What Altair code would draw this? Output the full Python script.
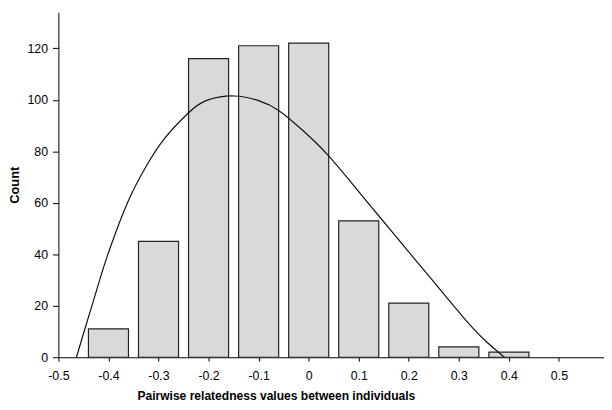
import altair as alt
import pandas as pd

# Histogram bins (centers) and counts
bin_centers = [-0.4, -0.3, -0.2, -0.1, 0.0, 0.1, 0.2, 0.3, 0.4]
counts = [11, 45, 116, 121, 122, 53, 21, 4, 2]

# Fitted curve, points
curve_x = [-0.464, -0.449, -0.429, -0.409, -0.386, -0.356, -0.324, -0.287,
           -0.241, -0.205, -0.150, -0.100, -0.060, -0.011, 0.039, 0.095,
           0.144, 0.194, 0.240, 0.306, 0.352, 0.391]
curve_y = [0.0, 9.8, 22.6, 35.4, 48.2, 62.6, 74.4, 85.2,
           94.8, 99.7, 101.5, 99.7, 95.9, 88.0, 78.4, 65.5,
           54.0, 42.3, 31.6, 16.2, 6.6, 0.0]

x_ticks = [-0.5, -0.4, -0.3, -0.2, -0.1, 0.0, 0.1, 0.2, 0.3, 0.4, 0.5]
y_ticks = [0, 20, 40, 60, 80, 100, 120]

bars_df = pd.DataFrame({"center": bin_centers, "count": counts})
curve_df = pd.DataFrame({"x": curve_x, "y": curve_y})

half_w = 0.04
x_scale = alt.Scale(domain=[-0.5, 0.59], nice=False, zero=False)
y_scale = alt.Scale(domain=[0, 134], nice=False)

x_axis = alt.Axis(
    values=x_ticks,
    labelExpr="datum.value == 0 ? '0' : toString(round(datum.value * 10) / 10)",
    labelFlush=False, labelPadding=9, tickSize=4,
    title="Pairwise relatedness values between individuals",
    titleX=220, titleAnchor="middle", titleAlign="center",
    titleFontSize=12.2, titlePadding=7,
)
y_axis = alt.Axis(values=y_ticks, title="Count", tickSize=6, labelPadding=5,
                  titlePadding=6, labelFlush=False)

bars = alt.Chart(bars_df).transform_calculate(
    lo=f"datum.center - {half_w}", hi=f"datum.center + {half_w}"
).mark_rect(fill="#d9d9d9", stroke="#222222", strokeWidth=1.2).encode(
    x=alt.X("lo:Q", scale=x_scale, axis=x_axis),
    x2="hi:Q",
    y=alt.Y("count:Q", scale=y_scale, axis=y_axis),
    y2=alt.datum(0),
)

curve = alt.Chart(curve_df).mark_line(
    color="#111111", strokeWidth=1.2, interpolate="natural", clip=True
).encode(
    x=alt.X("x:Q", scale=x_scale),
    y=alt.Y("y:Q", scale=y_scale),
)

chart = alt.layer(bars, curve).properties(
    width=552, height=349,
    autosize=alt.AutoSizeParams(type="none"),
    padding={"left": 51, "top": 2, "right": 0, "bottom": 51},
).configure_view(stroke=None).configure_axis(
    grid=False,
    domainColor="#000000", domainWidth=1,
    tickColor="#000000", tickWidth=1,
    labelFont="Liberation Sans", labelFontSize=12.5, labelColor="#000000",
    titleFont="Liberation Sans", titleFontSize=13, titleFontWeight="bold",
    titleColor="#000000",
)

chart.save("out.html", embed_options={"renderer": "svg", "actions": False})
